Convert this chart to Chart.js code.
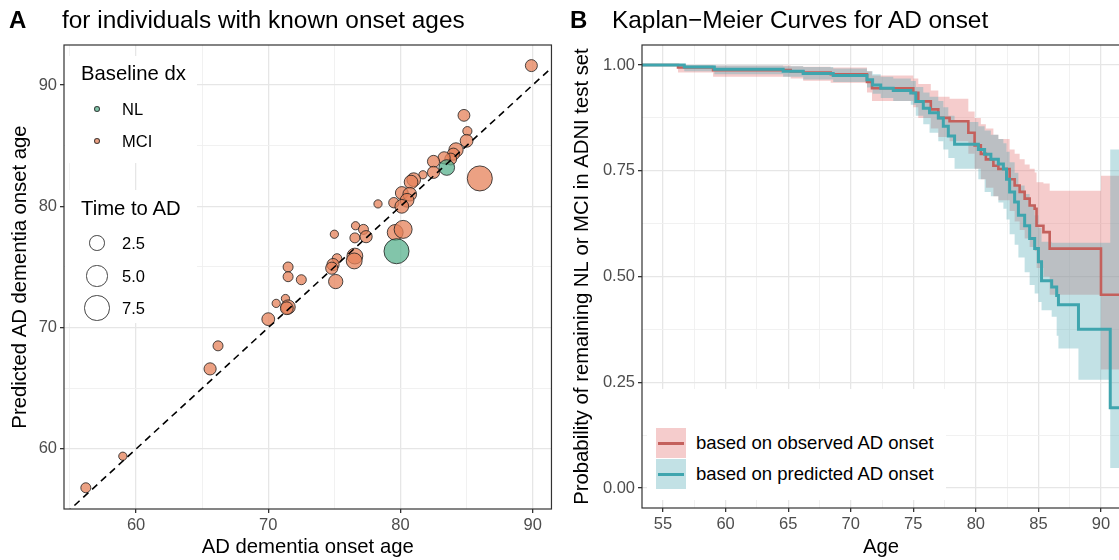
<!DOCTYPE html>
<html>
<head>
<meta charset="utf-8">
<script src="https://cdn.jsdelivr.net/npm/chart.js@4.4.1/dist/chart.umd.min.js"></script>
<style>
  html, body { margin: 0; padding: 0; background: #fff; }
  body { font-family: "Liberation Sans", Arial, sans-serif; color: #000; }
  #wrap { position: relative; width: 1119px; height: 560px; overflow: hidden; }
  .abs { position: absolute; white-space: nowrap; }
  .tag { font-weight: bold; font-size: 24px; line-height: 28px; }
  .ttl { font-size: 24.4px; line-height: 28px; }
  .lgbox { position: absolute; background: #fff; }
  .lgtitle { font-size: 20.3px; line-height: 24px; }
  .lgtxt { font-size: 16.5px; line-height: 20px; }
  .dot { position: absolute; border-radius: 50%; box-sizing: border-box; }
</style>
</head>
<body>
<div id="wrap">
  <canvas id="chartA" width="565" height="560" class="abs" style="left:0;top:0"></canvas>
  <canvas id="chartB" width="556" height="560" class="abs" style="left:565px;top:0"></canvas>

  <div class="abs tag" style="left:9px;top:6px">A</div>
  <div class="abs ttl" style="left:62px;top:6px">for individuals with known onset ages</div>
  <div class="abs tag" style="left:570px;top:6px">B</div>
  <div class="abs ttl" style="left:612px;top:6px">Kaplan−Meier Curves for AD onset</div>

  <!-- legend panel A -->
  <div class="lgbox" style="left:65px;top:56px;width:132px;height:107px"></div>
  <div class="lgbox" style="left:65px;top:190px;width:132px;height:133px"></div>
  <div id="legendA"></div>

  <!-- legend panel B -->
  <div class="lgbox" style="left:647px;top:389px;width:299px;height:111px"></div>
  <div id="legendB"></div>
</div>

<script>
// =====================================
// DATA - panel A (one entry per individual)
// =====================================
const onsetAge = [89.9, 84.8, 85.06, 85.0, 84.2, 84.0, 83.8, 83.3, 83.5, 82.5, 82.5, 81.7, 81.0, 80.8, 86.0,
    80.1, 80.7, 80.5, 79.5, 80.1, 78.3, 76.6, 77.2, 76.55, 77.4, 75.0, 79.6, 80.2, 79.7, 75.2,
    76.55, 76.5, 74.9, 74.8, 75.1, 71.5, 71.5, 72.5, 70.6, 71.3, 71.5, 71.4, 70.0, 66.2, 65.6, 59.0, 56.2];
const predictedAge = [91.6, 87.5, 86.2, 85.4, 84.65, 84.3, 83.9, 84.0, 83.2, 83.7, 82.8, 82.6, 82.2, 82.0, 82.3,
    81.1, 81.0, 80.5, 80.3, 80.0, 80.2, 78.4, 78.1, 77.4, 77.5, 77.7, 77.85, 78.1, 76.3, 75.7,
    75.9, 75.5, 75.2, 74.9, 73.8, 75.0, 74.2, 73.95, 72.0, 72.4, 71.7, 71.6, 70.7, 68.5, 66.6, 59.4, 56.8];
const timeToAD = [1.25, 1.2, 0.5, 1.5, 2.0, 1.3, 1.2, 1.3, 2.5, 1.3, 1.3, 0.3, 1.8, 1.8, 7.3,
    1.5, 1.8, 1.8, 0.8, 1.8, 0.3, 0.3, 0.7, 0.7, 1.3, 0.3, 2.6, 3.5, 7.3, 0.6,
    2.6, 2.6, 1.3, 1.3, 2.0, 0.7, 0.7, 0.7, 0.3, 0.3, 2.0, 1.5, 1.5, 0.7, 1.3, 0.3, 0.7];
const baselineDx = ["MCI", "MCI", "MCI", "MCI", "MCI", "MCI", "MCI", "MCI", "NL", "MCI", "MCI", "MCI", "MCI", "MCI", "MCI",
    "MCI", "MCI", "MCI", "MCI", "MCI", "MCI", "MCI", "MCI", "MCI", "MCI", "MCI", "MCI", "MCI", "NL", "MCI",
    "MCI", "MCI", "MCI", "MCI", "MCI", "MCI", "MCI", "MCI", "MCI", "MCI", "MCI", "MCI", "MCI", "MCI", "MCI", "MCI", "MCI"];
const identityLine = [54, 93];
const sizeBreaks = [2.5, 5.0, 7.5];

const aXTicks = [55, 60, 65, 70, 75, 80, 85, 90];
const aYTicks = [60, 65, 70, 75, 80, 85, 90];

// =====================================
// DATA - panel B (Kaplan-Meier steps)
// =====================================
const obsTime  = [53.3, 56.2, 59.0, 65.2, 66.2, 68.4, 71.3, 71.7, 75.0, 75.4, 76.4, 77.0, 77.9, 79.4, 79.9,
    80.4, 80.8, 81.4, 81.8, 82.7, 83.1, 83.5, 83.9, 84.3, 84.7, 84.85, 85.4, 85.9, 90.0, 95.2];
const obsSurv  = [1.00, 0.994, 0.988, 0.985, 0.982, 0.978, 0.96, 0.945, 0.934, 0.914, 0.895, 0.875, 0.867, 0.84, 0.81,
    0.79, 0.777, 0.762, 0.754, 0.73, 0.715, 0.70, 0.684, 0.668, 0.66, 0.62, 0.605, 0.566, 0.457, 0.457];
const obsUpper = [1.00, 1.00, 0.999, 0.997, 0.996, 0.994, 0.985, 0.975, 0.968, 0.955, 0.94, 0.925, 0.92, 0.89, 0.875,
    0.86, 0.85, 0.835, 0.825, 0.80, 0.79, 0.777, 0.765, 0.755, 0.746, 0.723, 0.72, 0.703, 0.738, 0.738];
const obsLower = [1.00, 0.982, 0.972, 0.968, 0.963, 0.958, 0.935, 0.915, 0.90, 0.875, 0.85, 0.83, 0.82, 0.79, 0.755,
    0.73, 0.71, 0.69, 0.68, 0.655, 0.63, 0.61, 0.59, 0.57, 0.56, 0.52, 0.50, 0.457, 0.28, 0.28];

const predTime  = [53.3, 56.7, 59.1, 64.6, 66.2, 68.6, 71.3, 71.75, 72.4, 73.4, 74.8, 75.2, 75.8, 76.3, 77.0,
    77.4, 77.8, 78.3, 80.2, 80.7, 81.2, 81.8, 82.2, 82.45, 82.7, 83.1, 83.4, 83.9, 84.3, 84.7,
    85.0, 85.25, 86.06, 86.46, 86.6, 88.2, 90.74, 95.2];
const predSurv  = [1.00, 0.995, 0.99, 0.985, 0.98, 0.975, 0.965, 0.953, 0.945, 0.94, 0.934, 0.914, 0.898, 0.887, 0.875,
    0.855, 0.832, 0.8125, 0.80, 0.789, 0.777, 0.766, 0.754, 0.73, 0.70, 0.676, 0.645, 0.62, 0.59, 0.566,
    0.535, 0.49, 0.475, 0.455, 0.433, 0.375, 0.19, 0.19];
const predUpper = [1.00, 1.00, 0.999, 0.997, 0.995, 0.992, 0.985, 0.978, 0.972, 0.968, 0.962, 0.948, 0.935, 0.925, 0.915,
    0.90, 0.88, 0.865, 0.855, 0.845, 0.835, 0.825, 0.815, 0.795, 0.77, 0.745, 0.715, 0.695, 0.67, 0.645,
    0.615, 0.582, 0.58, 0.58, 0.58, 0.58, 0.80, 0.80];
const predLower = [1.00, 0.985, 0.978, 0.972, 0.966, 0.96, 0.947, 0.932, 0.922, 0.915, 0.906, 0.88, 0.86, 0.84, 0.82,
    0.80, 0.78, 0.755, 0.73, 0.70, 0.69, 0.675, 0.66, 0.635, 0.60, 0.575, 0.545, 0.51, 0.48, 0.46,
    0.44, 0.42, 0.405, 0.36, 0.33, 0.256, 0.047, 0.047];

const bXTicks = [55, 57.5, 60, 62.5, 65, 67.5, 70, 72.5, 75, 77.5, 80, 82.5, 85, 87.5, 90];
const bYTicks = [0, 0.125, 0.25, 0.375, 0.5, 0.625, 0.75, 0.875, 1];
const bLegendLabels = ["based on observed AD onset", "based on predicted AD onset"];

// =====================================
// STYLE
// =====================================
const FONT = '"Liberation Sans", Arial, sans-serif';
let COLORS = {
    nl: "rgba(88,178,142,0.75)",
    mci: "rgba(230,130,90,0.75)",
    stroke: "rgba(30,30,30,0.8)",
    obsLine: "#C4605C",
    predLine: "#3FA5AE",
    obsBand: "rgba(225,110,110,0.35)",
    predBand: "rgba(80,170,180,0.35)",
    grid: "#EBEBEB",
    tick: "#4D4D4D"
};

// size scale: area grows linearly with time to AD
function sizeScale(t) { return Math.sqrt(11 + 20 * t); }

const boxPlugin = {
    id: "box",
    afterDatasetsDraw(chart) {
        const { ctx, chartArea: a } = chart;
        ctx.save();
        ctx.strokeStyle = "#333333";
        ctx.lineWidth = 1.2;
        ctx.strokeRect(a.left, a.top, a.right - a.left, a.bottom - a.top);
        ctx.restore();
    }
};

function gridOpts(isMajor) {
    return {
        color: c => (c.tick && isMajor(c.tick.value)) ? "#E6E6E6" : "#EFEFEF",
        lineWidth: c => (c.tick && isMajor(c.tick.value)) ? 1.3 : 0.9,
        tickColor: c => (c.tick && isMajor(c.tick.value)) ? "#333333" : "rgba(0,0,0,0)",
        tickLength: 4,
        drawTicks: true
    };
}

// =====================================
// PANEL A
// =====================================
function pointsFor(dx) {
    const pts = [];
    onsetAge.forEach((x, i) => {
        if (baselineDx[i] === dx) pts.push({ x: x, y: predictedAge[i], r: sizeScale(timeToAD[i]) });
    });
    return pts;
}

const majorA = v => v % 10 === 0;

new Chart(document.getElementById("chartA"), {
    data: {
        datasets: [
            {
                type: "line",
                data: identityLine.map(v => ({ x: v, y: v })),
                borderColor: "#000",
                borderWidth: 1.6,
                borderDash: [7, 5],
                pointRadius: 0
            },
            {
                type: "bubble",
                data: pointsFor("NL"),
                backgroundColor: COLORS.nl,
                borderColor: COLORS.stroke,
                borderWidth: 1
            },
            {
                type: "bubble",
                data: pointsFor("MCI"),
                backgroundColor: COLORS.mci,
                borderColor: COLORS.stroke,
                borderWidth: 1
            }
        ]
    },
    options: {
        responsive: false,
        animation: false,
        events: [],
        layout: { padding: { top: 45, right: 7, left: 0, bottom: 0 } },
        plugins: { legend: { display: false }, tooltip: { enabled: false } },
        scales: {
            x: {
                type: "linear",
                min: 54.55, max: 91.42,
                afterFit: s => { s.height = 51; },
                afterBuildTicks: s => { s.ticks = aXTicks.map(v => ({ value: v })); },
                grid: gridOpts(majorA),
                border: { display: false },
                ticks: {
                    color: COLORS.tick, padding: 3,
                    font: { family: FONT, size: 16.5 },
                    callback: v => majorA(v) ? String(v) : ""
                },
                title: {
                    display: true, text: "AD dementia onset age", color: "#000",
                    font: { family: FONT, size: 20.3 }, padding: { top: 0, bottom: 0 }
                }
            },
            y: {
                type: "linear",
                min: 55.05, max: 93.3,
                afterFit: s => { s.width = 64; },
                afterBuildTicks: s => { s.ticks = aYTicks.map(v => ({ value: v })); },
                grid: gridOpts(majorA),
                border: { display: false },
                ticks: {
                    color: COLORS.tick, padding: 3,
                    font: { family: FONT, size: 16.5 },
                    callback: v => majorA(v) ? String(v) : ""
                },
                title: {
                    display: true, text: "Predicted AD dementia onset age", color: "#000",
                    font: { family: FONT, size: 20.3 }, padding: { top: 8, bottom: 0 }
                }
            }
        }
    },
    plugins: [boxPlugin]
});

// =====================================
// PANEL B
// =====================================
const steps = (xs, ys) => xs.map((x, i) => ({ x: x, y: ys[i] }));
const majorBX = v => v % 5 === 0;
const majorBY = v => v % 0.25 === 0;

new Chart(document.getElementById("chartB"), {
    type: "line",
    data: {
        datasets: [
            { data: steps(predTime, predSurv), borderColor: COLORS.predLine, borderWidth: 3, stepped: "before", pointRadius: 0, fill: false },
            { data: steps(obsTime, obsSurv), borderColor: COLORS.obsLine, borderWidth: 2.6, stepped: "before", pointRadius: 0, fill: false },
            { data: steps(predTime, predUpper), borderWidth: 0, stepped: "before", pointRadius: 0, fill: "+1", backgroundColor: COLORS.predBand },
            { data: steps(predTime, predLower), borderWidth: 0, stepped: "before", pointRadius: 0, fill: false },
            { data: steps(obsTime, obsUpper), borderWidth: 0, stepped: "before", pointRadius: 0, fill: "+1", backgroundColor: COLORS.obsBand },
            { data: steps(obsTime, obsLower), borderWidth: 0, stepped: "before", pointRadius: 0, fill: false }
        ]
    },
    options: {
        responsive: false,
        animation: false,
        events: [],
        layout: { padding: { top: 45, right: 1, left: 0, bottom: 0 } },
        plugins: { legend: { display: false }, tooltip: { enabled: false } },
        scales: {
            x: {
                type: "linear",
                min: 53.32, max: 91.52,
                afterFit: s => { s.height = 52; },
                afterBuildTicks: s => { s.ticks = bXTicks.map(v => ({ value: v })); },
                grid: gridOpts(majorBX),
                border: { display: false },
                ticks: {
                    color: COLORS.tick, padding: 3,
                    font: { family: FONT, size: 16.5 },
                    callback: v => majorBX(v) ? String(v) : ""
                },
                title: {
                    display: true, text: "Age", color: "#000",
                    font: { family: FONT, size: 20.3 }, padding: { top: 0, bottom: 0 }
                }
            },
            y: {
                type: "linear",
                min: -0.0473, max: 1.0473,
                afterFit: s => { s.width = 77; },
                afterBuildTicks: s => { s.ticks = bYTicks.map(v => ({ value: v })); },
                grid: gridOpts(majorBY),
                border: { display: false },
                ticks: {
                    color: COLORS.tick, padding: 3,
                    font: { family: FONT, size: 16.5 },
                    callback: v => majorBY(v) ? v.toFixed(2) : ""
                },
                title: {
                    display: true, text: "Probability of remaining NL or MCI in ADNI test set", color: "#000",
                    font: { family: FONT, size: 20.3 }, padding: { top: 5, bottom: 0 }
                }
            }
        }
    },
    plugins: [boxPlugin]
});

// =====================================
// LEGENDS (html, on top of the canvases)
// =====================================
function addText(parent, cls, text, left, centerY, lineH) {
    const d = document.createElement("div");
    d.className = "abs " + cls;
    d.textContent = text;
    d.style.left = left + "px";
    d.style.top = (centerY - lineH / 2) + "px";
    parent.appendChild(d);
}
function addDot(parent, cx, cy, r, fill, stroke) {
    const d = document.createElement("div");
    d.className = "dot";
    d.style.left = (cx - r) + "px";
    d.style.top = (cy - r) + "px";
    d.style.width = (2 * r) + "px";
    d.style.height = (2 * r) + "px";
    d.style.background = fill;
    d.style.border = "1px solid " + stroke;
    parent.appendChild(d);
}

const legA = document.getElementById("legendA");
addText(legA, "lgtitle", "Baseline dx", 81, 73, 24);
addDot(legA, 97, 109, 3.4, COLORS.nl, COLORS.stroke);
addText(legA, "lgtxt", "NL", 122, 109, 20);
addDot(legA, 97, 141, 3.4, COLORS.mci, COLORS.stroke);
addText(legA, "lgtxt", "MCI", 122, 141, 20);
addText(legA, "lgtitle", "Time to AD", 81, 208, 24);
const sizeRows = [243, 276, 308];
sizeBreaks.forEach((t, i) => {
    addDot(legA, 97, sizeRows[i], sizeScale(t), "transparent", "#444");
    addText(legA, "lgtxt", t.toFixed(1), 122, sizeRows[i], 20);
});

const legB = document.getElementById("legendB");
const bKeyFill = [COLORS.obsBand, COLORS.predBand];
const bKeyLine = [COLORS.obsLine, COLORS.predLine];
const bRows = [443, 474];
bLegendLabels.forEach((lab, i) => {
    const k = document.createElement("div");
    k.className = "abs";
    k.style.cssText = "left:656px;width:30px;height:30px;top:" + (bRows[i] - 15) + "px;background:" + bKeyFill[i];
    const ln = document.createElement("div");
    ln.className = "abs";
    ln.style.cssText = "left:2px;width:26px;height:3px;top:13.5px;background:" + bKeyLine[i];
    k.appendChild(ln);
    legB.appendChild(k);
    const t = document.createElement("div");
    t.className = "abs";
    t.style.cssText = "left:696px;font-size:18.5px;line-height:22px;top:" + (bRows[i] - 11) + "px";
    t.textContent = lab;
    legB.appendChild(t);
});
</script>
</body>
</html>
